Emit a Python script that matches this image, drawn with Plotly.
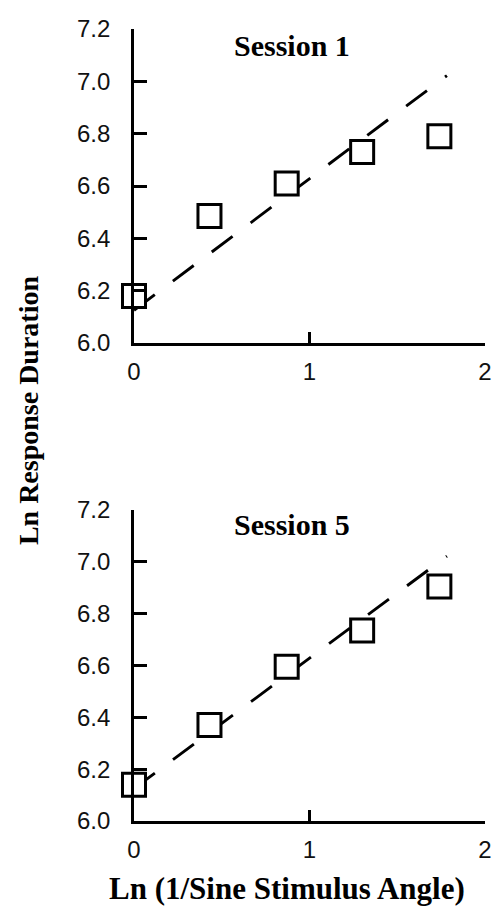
import plotly.graph_objects as go

# Data
x_vals = [0.0, 0.43, 0.87, 1.30, 1.74]
session1_y = [6.18, 6.485, 6.61, 6.73, 6.79]
session5_y = [6.14, 6.37, 6.595, 6.735, 6.905]
line_x = [0.0, 1.783]
line_y = [6.125, 7.022]
panel_titles = ["Session 1", "Session 5"]
y_ticks = [6.0, 6.2, 6.4, 6.6, 6.8, 7.0, 7.2]
y_ticklabels = ["6.0", "6.2", "6.4", "6.6", "6.8", "7.0", "7.2"]
x_ticks = [0, 1, 2]
x_ticklabels = ["0", "1", "2"]
x_title = "Ln (1/Sine Stimulus Angle)"
y_title = "Ln Response Duration"

W, H = 499, 915
L, R, T, B = 134, 7, 29, 94
plot_h = H - T - B
plot_w = W - L - R

def dom(top_px, bottom_px):
    base = H - B
    return [(base - bottom_px) / plot_h, (base - top_px) / plot_h]

fig = go.Figure()

series = [session1_y, session5_y]
axes = [("x", "y"), ("x2", "y2")]
for (xa, ya), ys in zip(axes, series):
    fig.add_trace(go.Scatter(
        x=line_x, y=line_y, mode="lines", xaxis=xa, yaxis=ya,
        line=dict(color="black", width=2.9, dash="26px,22.6px"),
        hoverinfo="skip", showlegend=False, cliponaxis=False))
    fig.add_trace(go.Scatter(
        x=x_vals, y=ys, mode="markers", xaxis=xa, yaxis=ya,
        marker=dict(symbol="square", size=23, color="white",
                    line=dict(color="black", width=3)),
        showlegend=False, cliponaxis=False))

tick_font = dict(family="Liberation Sans, Arial, sans-serif", size=24, color="#111")
xcommon = dict(range=[0, 2], tickvals=x_ticks, ticktext=x_ticklabels,
               showline=True, linecolor="black", linewidth=2.8,
               ticks="inside", ticklen=11, tickwidth=2.8, tickcolor="black",
               showgrid=False, zeroline=False, tickfont=tick_font,
               ticklabelstandoff=5)
ycommon = dict(range=[6.0, 7.2], tickvals=y_ticks, ticktext=y_ticklabels,
               showline=True, linecolor="black", linewidth=2.8,
               ticks="inside", ticklen=13, tickwidth=2.8, tickcolor="black",
               showgrid=False, zeroline=False, tickfont=tick_font,
               ticklabelstandoff=16)

fig.update_layout(
    width=W, height=H,
    margin=dict(l=L, r=R, t=T, b=B),
    paper_bgcolor="white", plot_bgcolor="white",
    xaxis=dict(domain=[0, 1], anchor="y", **xcommon),
    yaxis=dict(domain=dom(29, 343), anchor="x", **ycommon),
    xaxis2=dict(domain=[0, 1], anchor="y2", **xcommon),
    yaxis2=dict(domain=dom(510, 821), anchor="x2", **ycommon),
)

title_font = dict(family="Liberation Serif, Times New Roman, serif", size=30, color="black")
fig.add_annotation(text="<b>%s</b>" % panel_titles[0], xref="x domain", yref="y domain",
                   x=0.45, y=0.949, showarrow=False, font=title_font,
                   xanchor="center", yanchor="middle")
fig.add_annotation(text="<b>%s</b>" % panel_titles[1], xref="x2 domain", yref="y2 domain",
                   x=0.45, y=0.952, showarrow=False, font=title_font,
                   xanchor="center", yanchor="middle")

fig.add_annotation(text="<b>%s</b>" % x_title, xref="paper", yref="paper",
                   x=(290 - L) / plot_w, y=(H - B - 888) / plot_h,
                   showarrow=False, xanchor="center", yanchor="middle",
                   font=dict(family="Liberation Serif, Times New Roman, serif", size=31, color="black"))
fig.add_annotation(text="<b>%s</b>" % y_title, xref="paper", yref="paper",
                   x=(26 - L) / plot_w, y=(H - B - 410) / plot_h,
                   showarrow=False, xanchor="center", yanchor="middle", textangle=-90,
                   font=dict(family="Liberation Serif, Times New Roman, serif", size=28, color="black"))

# remove the browser's default 8px body margin so the figure fills the window
fig.write_html("out.html", config={"displayModeBar": False},
               post_script="document.body.style.margin='0';")
